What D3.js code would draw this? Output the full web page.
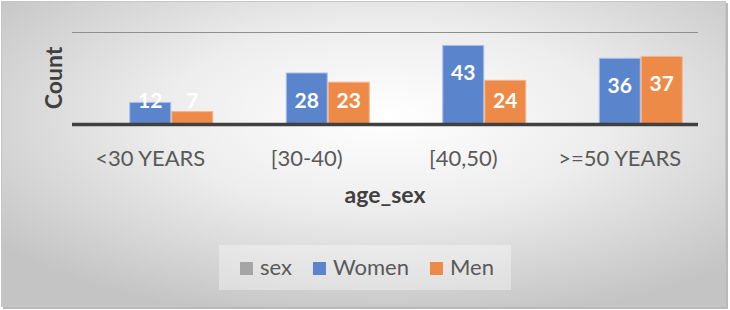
<!DOCTYPE html>
<html>
<head>
<meta charset="utf-8">
<script src="https://cdn.jsdelivr.net/npm/d3@7"></script>
<style>
  html, body { margin: 0; padding: 0; background: #ffffff; }
  svg { display: block; }
  text { font-family: Lato, "Open Sans", sans-serif; }
</style>
</head>
<body>
<svg id="chart" width="730" height="310"></svg>
<script>
// ---- data ----
const categories = ["<30 YEARS", "[30-40)", "[40,50)", ">=50 YEARS"];
const seriesNames = ["sex", "Women", "Men"];
const sexValues = [null, null, null, null];
const womenValues = [12, 28, 43, 36];
const menValues = [7, 23, 24, 37];
const yTicks = [0, 50];
const xTitle = "age_sex";
const yTitle = "Count";

const colors = { sex: "#a5a5a5", Women: "#5a84cc", Men: "#ee8a48" };
const strokes = { sex: "#c8c8c8", Women: "#a9c1ec", Men: "#f6b48a" };

const svg = d3.select("#chart");
const W = 730, H = 310;
const m = { left: 72, right: 32, top: 32, bottom: 186 };

// background gradient
const defs = svg.append("defs");
const grad = defs.append("radialGradient").attr("id", "bg")
  .attr("cx", "53%").attr("cy", "38%").attr("r", "68%");
grad.append("stop").attr("offset", "0%").attr("stop-color", "#ffffff");
grad.append("stop").attr("offset", "45%").attr("stop-color", "#ededed");
grad.append("stop").attr("offset", "100%").attr("stop-color", "#c4c4c4");

// shadow + frame
svg.append("rect").attr("x", 3).attr("y", 3).attr("width", 725).attr("height", 306)
  .attr("fill", "#b9b9b9");
svg.append("rect").attr("x", 1.5).attr("y", 1.5).attr("width", 724).attr("height", 305)
  .attr("fill", "url(#bg)").attr("stroke", "#c6c6c6").attr("stroke-width", 1);

const x0 = d3.scaleBand().domain(categories).range([m.left, W - m.right])
  .paddingInner(0.195).paddingOuter(0.0975);
const x1 = d3.scaleBand().domain(seriesNames).range([0, x0.bandwidth()]).padding(0);
const y = d3.scaleLinear().domain([0, 50]).range([124, 32]);

// gridlines
svg.append("g").selectAll("line").data(yTicks.filter(t => t > 0)).join("line")
  .attr("x1", m.left).attr("x2", W - m.right)
  .attr("y1", d => Math.round(y(d)) + 0.5).attr("y2", d => Math.round(y(d)) + 0.5)
  .attr("stroke", "#8f8f8f").attr("stroke-width", 1);

// bars
const rows = [];
categories.forEach((c, i) => {
  rows.push({ cat: c, s: "sex", v: sexValues[i] });
  rows.push({ cat: c, s: "Women", v: womenValues[i] });
  rows.push({ cat: c, s: "Men", v: menValues[i] });
});
const valid = rows.filter(d => d.v != null);

svg.append("g").selectAll("rect").data(valid).join("rect")
  .attr("x", d => x0(d.cat) + x1(d.s) + 0.5)
  .attr("y", d => y(d.v) + 0.5)
  .attr("width", x1.bandwidth() - 1)
  .attr("height", d => y(0) - y(d.v))
  .attr("fill", d => colors[d.s])
  .attr("stroke", d => strokes[d.s])
  .attr("stroke-width", 1);

// axis line
const xAxis = d3.axisBottom(x0).tickSize(0).tickPadding(0);
const gx = svg.append("g").attr("transform", `translate(0,${y(0) + 0.5})`).call(xAxis);
gx.select(".domain").attr("stroke", "#404040").attr("stroke-width", 3.5)
  .attr("d", `M${m.left},0H${W - m.right}`);
gx.selectAll(".tick text")
  .attr("y", 42 - 0.5).attr("dy", 0)
  .attr("font-size", 22).attr("fill", "#595959")
  .style("font-family", "Lato, 'Open Sans', sans-serif");

// data labels
svg.append("g").selectAll("text").data(valid).join("text")
  .attr("x", d => x0(d.cat) + x1(d.s) + x1.bandwidth() / 2)
  .attr("y", d => y(Math.max(d.v - 15, 13)))
  .attr("dy", "0.36em")
  .attr("text-anchor", "middle")
  .attr("font-size", 21).attr("font-weight", "bold")
  .attr("fill", "#ffffff")
  .text(d => d.v);

// axis titles
svg.append("text").attr("x", (m.left + W - m.right) / 2).attr("y", 203)
  .attr("text-anchor", "middle").attr("font-size", 23).attr("font-weight", "bold")
  .attr("fill", "#404040").text(xTitle);
svg.append("text").attr("transform", `translate(62,${(y(0) + y(50)) / 2}) rotate(-90)`)
  .attr("text-anchor", "middle").attr("font-size", 23).attr("font-weight", "bold")
  .attr("fill", "#404040").text(yTitle);

// legend
const lg = svg.append("g");
lg.append("rect").attr("x", 219).attr("y", 245).attr("width", 292).attr("height", 45)
  .attr("fill", "#ffffff").attr("fill-opacity", 0.35);
let lx = 240;
seriesNames.forEach(s => {
  lg.append("rect").attr("x", lx).attr("y", 262).attr("width", 13).attr("height", 13)
    .attr("fill", colors[s]);
  const t = lg.append("text").attr("x", lx + 20).attr("y", 275)
    .attr("font-size", 22).attr("fill", "#595959").text(s);
  lx += 20 + t.node().getComputedTextLength() + 21;
});
</script>
</body>
</html>
